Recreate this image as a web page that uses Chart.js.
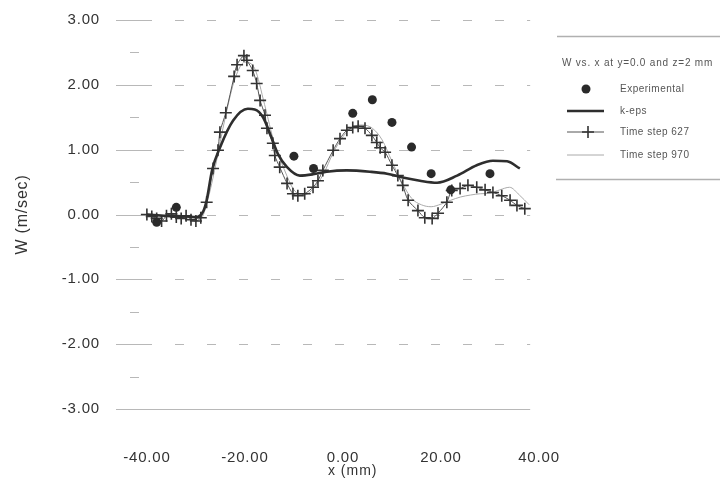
<!DOCTYPE html>
<html>
<head>
<meta charset="utf-8">
<script src="https://cdn.jsdelivr.net/npm/chart.js@4/dist/chart.umd.min.js"></script>
<style>
  html, body { margin: 0; padding: 0; background: #fff; }
  #wrap { width: 720px; height: 486px; position: relative; }
</style>
</head>
<body>
<div id="wrap"><canvas id="c"></canvas></div>
<script>
// Axis ticks
const xTicks = [-40, -20, 0, 20, 40];
const yTicks = [-3, -2, -1, 0, 1, 2, 3];

// Experimental measurements
const expX = [-38, -34, -10, -6, 2, 6, 10, 14, 18, 22, 30];
const expY = [-0.12, 0.11, 0.90, 0.71, 1.56, 1.77, 1.42, 1.04, 0.63, 0.38, 0.63];

// k-eps model
const kepsX = [-40, -36, -32, -30, -28.5, -27.8, -26.7, -25.1, -22.4, -19.4, -18, -16.3, -14.9, -13.3,
  -11.4, -8.8, -6.1, -3.3, 0.8, 5.5, 9, 12.2, 15.7, 19.2, 23.3, 27.3, 30.6, 33.5, 36.1];
const kepsY = [0.0, -0.02, -0.03, -0.04, 0.05, 0.22, 0.68, 1.03, 1.45, 1.63, 1.62, 1.50, 1.25, 0.94,
  0.73, 0.60, 0.62, 0.66, 0.68, 0.66, 0.63, 0.57, 0.52, 0.49, 0.60, 0.76, 0.83, 0.82, 0.71];

// Time step 627
const ts627X = [-40, -39, -38, -37, -36, -35, -34, -33, -32, -31, -30, -29, -27.8, -26.5, -25.5, -25.1,
  -23.9, -22.2, -21.6, -20.2, -19.6, -18.4, -17.6, -16.9, -15.9, -15.5, -14.3, -13.9, -12.9, -11.4,
  -10.2, -9.2, -7.8, -6.1, -5.1, -4.1, -2, -0.6, 0.8, 2, 3.1, 4.5, 5.9, 6.9, 7.6, 8.6, 10, 11.2,
  12.2, 13.3, 15.3, 16.7, 18.2, 19.4, 21.2, 22.2, 23.9, 25.5, 27.3, 29, 30.6, 32.4, 34.1, 35.5, 37.1];
const ts627Y = [0.0, -0.03, -0.06, -0.10, -0.02, 0.01, -0.04, -0.06, -0.02, -0.08, -0.10, -0.05, 0.19,
  0.71, 0.99, 1.27, 1.57, 2.13, 2.31, 2.45, 2.38, 2.22, 2.02, 1.76, 1.53, 1.33, 1.10, 0.91, 0.73, 0.48,
  0.32, 0.29, 0.32, 0.42, 0.52, 0.68, 0.99, 1.17, 1.30, 1.34, 1.36, 1.33, 1.22, 1.11, 1.03, 0.96, 0.76,
  0.60, 0.45, 0.22, 0.06, -0.05, -0.06, 0.02, 0.19, 0.37, 0.40, 0.45, 0.42, 0.38, 0.34, 0.29, 0.22,
  0.14, 0.09];

// Time step 970
const ts970X = [-40, -36, -32, -29, -27.5, -26, -24, -22, -20, -18, -16, -14, -12, -10, -8, -6, -4, -2,
  0, 2, 4, 6, 8, 10, 12, 14, 16, 18, 20, 22, 24, 26, 28, 30, 32, 34, 36, 38];
const ts970Y = [0.0, -0.04, -0.05, -0.06, 0.25, 0.75, 1.50, 2.10, 2.35, 2.25, 1.70, 1.10, 0.70, 0.38,
  0.30, 0.40, 0.62, 0.95, 1.20, 1.35, 1.38, 1.33, 1.15, 0.82, 0.50, 0.25, 0.15, 0.12, 0.16, 0.22,
  0.27, 0.30, 0.32, 0.33, 0.38, 0.42, 0.30, 0.15];

const legendTitle = 'W vs. x at y=0.0 and z=2 mm';
const xTitle = 'x (mm)';
const yTitle = 'W (m/sec)';

const pts = (xs, ys) => xs.map((x, i) => ({ x, y: ys[i] }));
const fmt = v => (Math.abs(v) < 1e-9 ? 0 : v).toFixed(2);
const FONT = '"Liberation Sans", Arial, sans-serif';

// Slightly open letter spacing for all canvas text
const spacing = {
  id: 'spacing',
  beforeDraw(chart) { chart.ctx.letterSpacing = '0.8px'; }
};

// Dashed horizontal grid with a solid stub near the y axis, plus short minor marks
const dashGrid = {
  id: 'dashGrid',
  beforeDatasetsDraw(chart) {
    const { ctx, chartArea: a, scales: { x, y } } = chart;
    const xEnd = x.getPixelForValue(38.2);
    ctx.save();
    ctx.strokeStyle = '#b8b8b8';
    ctx.lineWidth = 1;
    yTicks.forEach(v => {
      const py = Math.round(y.getPixelForValue(v)) + 0.5;
      ctx.setLineDash([]);
      ctx.beginPath();
      if (v === yTicks[0]) {
        ctx.moveTo(a.left, py); ctx.lineTo(xEnd, py); ctx.stroke();
        return;
      }
      ctx.moveTo(a.left, py); ctx.lineTo(a.left + 36, py); ctx.stroke();
      ctx.setLineDash([9, 23]);
      ctx.beginPath();
      ctx.moveTo(a.left + 59, py); ctx.lineTo(xEnd, py); ctx.stroke();
    });
    ctx.setLineDash([]);
    for (let i = 0; i < yTicks.length - 1; i++) {
      const v = (yTicks[i] + yTicks[i + 1]) / 2;
      const py = Math.round(y.getPixelForValue(v)) + 0.5;
      ctx.beginPath();
      ctx.moveTo(a.left + 14, py); ctx.lineTo(a.left + 23, py); ctx.stroke();
    }
    ctx.restore();
  }
};

// x-axis title and the legend panel on the right
const sideLegend = {
  id: 'sideLegend',
  afterDraw(chart) {
    const { ctx, scales: { x } } = chart;
    ctx.save();
    ctx.letterSpacing = '1px';
    ctx.fillStyle = '#333';
    ctx.font = '14px ' + FONT;
    ctx.textAlign = 'center';
    ctx.textBaseline = 'middle';
    ctx.fillText(xTitle, x.getPixelForValue(2), 471);

    ctx.strokeStyle = '#b0b0b0';
    ctx.lineWidth = 1.5;
    ctx.beginPath(); ctx.moveTo(557, 36.5); ctx.lineTo(720, 36.5); ctx.stroke();
    ctx.beginPath(); ctx.moveTo(556, 179.5); ctx.lineTo(720, 179.5); ctx.stroke();

    ctx.textAlign = 'left';
    ctx.fillStyle = '#555';
    ctx.font = '10px ' + FONT;
    ctx.letterSpacing = '0.8px';
    ctx.fillText(legendTitle, 562, 63);
    ctx.letterSpacing = '0.5px';

    const rows = [89, 111, 132, 155];
    chart.data.datasets.forEach((ds, i) => {
      const yy = rows[i];
      ctx.setLineDash([]);
      if (ds.showLine !== false) {
        ctx.strokeStyle = ds.borderColor;
        ctx.lineWidth = ds.borderWidth;
        ctx.beginPath(); ctx.moveTo(567, yy); ctx.lineTo(604, yy); ctx.stroke();
      }
      if (ds.pointStyle === 'circle' && ds.pointRadius > 0) {
        ctx.fillStyle = ds.backgroundColor;
        ctx.beginPath(); ctx.arc(586, yy, ds.pointRadius, 0, Math.PI * 2); ctx.fill();
      } else if (ds.pointStyle === 'cross' && ds.pointRadius > 0) {
        ctx.strokeStyle = ds.pointBorderColor;
        ctx.lineWidth = ds.pointBorderWidth;
        const r = ds.pointRadius;
        ctx.beginPath();
        ctx.moveTo(588 - r, yy); ctx.lineTo(588 + r, yy);
        ctx.moveTo(588, yy - r); ctx.lineTo(588, yy + r);
        ctx.stroke();
      }
      ctx.fillStyle = '#555';
      ctx.fillText(ds.label, 620, yy);
    });
    ctx.restore();
  }
};

new Chart(document.getElementById('c'), {
  type: 'line',
  data: {
    datasets: [
      {
        label: 'Experimental',
        data: pts(expX, expY),
        showLine: false,
        pointStyle: 'circle',
        pointRadius: 4.5,
        backgroundColor: '#2a2a2a',
        borderColor: '#2a2a2a',
        pointBorderWidth: 0
      },
      {
        label: 'k-eps',
        data: pts(kepsX, kepsY),
        borderColor: '#2e2e2e',
        borderWidth: 2.6,
        pointRadius: 0,
        cubicInterpolationMode: 'monotone'
      },
      {
        label: 'Time step 627',
        data: pts(ts627X, ts627Y),
        borderColor: '#555',
        borderWidth: 1,
        pointStyle: 'cross',
        pointRadius: 6,
        pointBorderWidth: 1.6,
        pointBorderColor: '#333',
        tension: 0.3
      },
      {
        label: 'Time step 970',
        data: pts(ts970X, ts970Y),
        borderColor: '#aaaaaa',
        borderWidth: 1,
        pointRadius: 0,
        cubicInterpolationMode: 'monotone'
      }
    ]
  },
  options: {
    responsive: true,
    maintainAspectRatio: false,
    animation: false,
    layout: { padding: { top: 20, right: 181, bottom: 0, left: 0 } },
    plugins: { legend: { display: false }, tooltip: { enabled: false } },
    scales: {
      x: {
        type: 'linear',
        min: -46.3,
        max: 40,
        afterBuildTicks: s => { s.ticks = xTicks.map(v => ({ value: v })); },
        afterFit: s => { s.height = 77; s.paddingLeft = 0; s.paddingRight = 0; },
        grid: { display: false, drawTicks: false },
        border: { display: false },
        ticks: {
          autoSkip: false,
          maxRotation: 0,
          padding: 40,
          color: '#333',
          font: { family: FONT, size: 15 },
          callback: v => fmt(v)
        }
      },
      y: {
        min: -3,
        max: 3,
        afterBuildTicks: s => { s.ticks = yTicks.map(v => ({ value: v })); },
        afterFit: s => { s.width = 116; s.paddingTop = 0; s.paddingBottom = 0; },
        grid: { display: false, drawTicks: false },
        border: { display: false },
        ticks: {
          padding: 16,
          color: '#333',
          font: { family: FONT, size: 15 },
          callback: v => fmt(v)
        },
        title: {
          display: true,
          text: yTitle,
          color: '#333',
          font: { family: FONT, size: 16 },
          padding: { top: 13, bottom: 0 }
        }
      }
    }
  },
  plugins: [spacing, dashGrid, sideLegend]
});
</script>
</body>
</html>
